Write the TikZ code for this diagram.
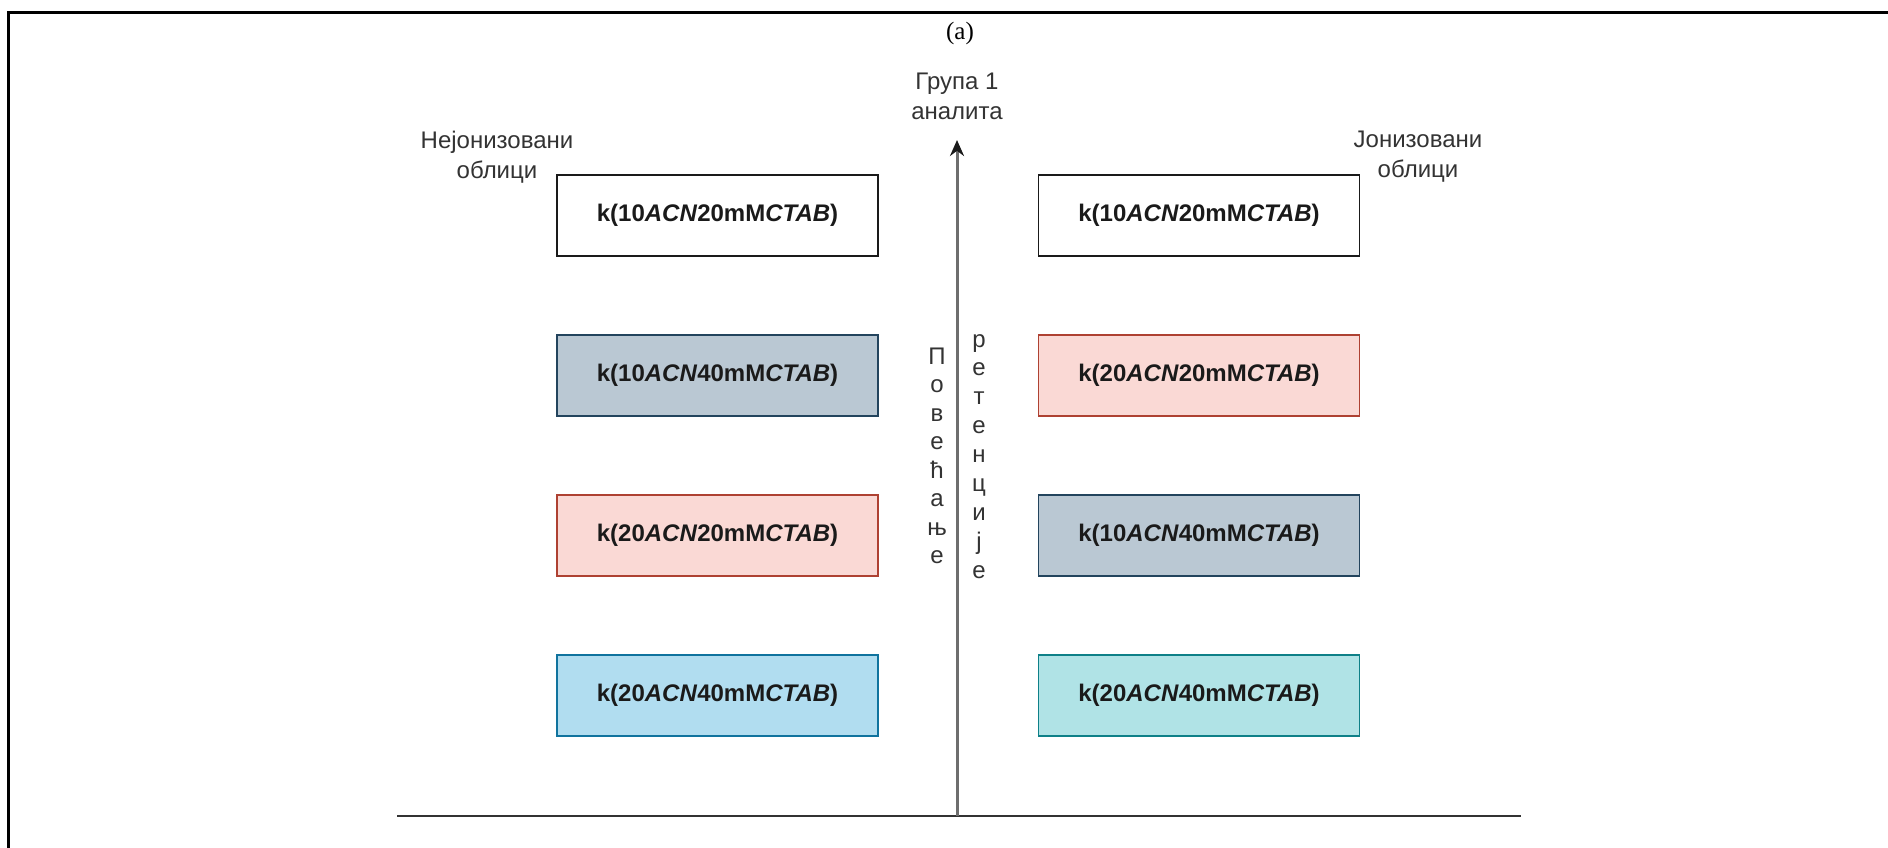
\documentclass[tikz,border=0pt]{standalone}
\usepackage{fontspec}
\setmainfont{Liberation Sans}
\newfontfamily\capfont{Liberation Serif}
\usepackage{tikz}
\usetikzlibrary{arrows.meta}
\definecolor{ink}{HTML}{1A1A1A}
\definecolor{muted}{HTML}{333333}
\definecolor{axisgray}{HTML}{6E6E6E}
\definecolor{plainfill}{HTML}{FFFFFF}
\definecolor{plainline}{HTML}{1A1A1A}
\definecolor{slatefill}{HTML}{BAC8D3}
\definecolor{slateline}{HTML}{23445D}
\definecolor{rosefill}{HTML}{FAD9D5}
\definecolor{roseline}{HTML}{AE4132}
\definecolor{skyfill}{HTML}{B1DDF0}
\definecolor{skyline}{HTML}{10739E}
\definecolor{tealfill}{HTML}{B0E3E6}
\definecolor{tealline}{HTML}{0E8088}
\newcommand{\kval}[2]{k(#1\textit{ACN}#2mM\textit{CTAB})}

\begin{document}
\begin{tikzpicture}[x=1pt,y=-1pt,
  kbox/.style={draw=#1line,fill=#1fill,line width=1.8pt,minimum width=321pt,minimum height=81pt,
    inner sep=0pt,font=\fontsize{24}{29}\selectfont\bfseries,text=ink},
  lbl/.style={font=\fontsize{24}{30}\selectfont,text=muted,align=center,inner sep=0pt}]
  \useasboundingbox (0,0) rectangle (1888,847);
  \clip (0,0) rectangle (1888,847);
  \draw[line width=3pt] (8,850) -- (8,12) -- (1890,12);

  \node[font=\capfont\fontsize{25}{30}\selectfont,inner sep=0pt] (cap) at (960,33) {(a)};
  \node[lbl] (grp) at (957,96) {Група 1\\аналита};
  \node[lbl] (nonion) at (497,157) {Нејонизовани\\облици};
  \node[lbl] (ion) at (1418,157) {Јонизовани\\облици};

  \foreach \i/\col/\a/\b in {1/plain/10/20,2/slate/10/40,3/rose/20/20,4/sky/20/40}
    \node[kbox=\col] (L\i) at (717.5,{215.5+160*(\i-1)}) {\kval{\a}{\b}};
  \foreach \i/\col/\a/\b in {1/plain/10/20,2/rose/20/20,3/slate/10/40,4/teal/20/40}
    \node[kbox=\col] (R\i) at (1199,{215.5+160*(\i-1)}) {\kval{\a}{\b}};

  \coordinate (bl) at (397,816);
  \coordinate (br) at (1521,816);
  \coordinate (foot) at (957,816);
  \coordinate (tip) at (957,140);
  \draw[muted,line width=2.2pt] (bl) -- (br);
  \draw[axisgray,line width=3pt,-{Stealth[length=16pt,width=14pt,color=ink]}] (foot) -- (tip);

  \foreach \ch [count=\i] in {П,о,в,е,ћ,а,њ,е}
    \node[lbl,anchor=base] (up\i) at (937,{364+28.5*(\i-1)}) {\ch};
  \foreach \ch [count=\i] in {р,е,т,е,н,ц,и,ј,е}
    \node[lbl,anchor=base] (ret\i) at (979,{347+28.9*(\i-1)}) {\ch};
\end{tikzpicture}
\end{document}
